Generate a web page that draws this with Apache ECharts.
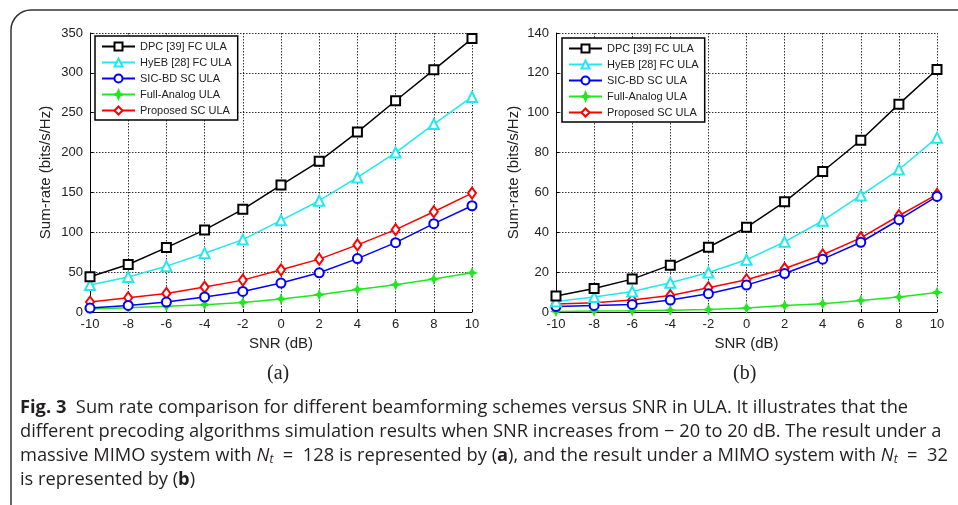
<!DOCTYPE html>
<html><head><meta charset="utf-8">
<script src="https://cdn.jsdelivr.net/npm/echarts@6/dist/echarts.min.js"></script>
<style>html,body{margin:0;padding:0;background:#fff}#c{width:958px;height:505px}</style>
</head><body><div id="c"></div>
<script>
var snr = [-10,-8,-6,-4,-2,0,2,4,6,8,10];
var seriesNames = ['DPC [39] FC ULA','HyEB [28] FC ULA','SIC-BD SC ULA','Full-Analog ULA','Proposed SC ULA'];
// (a) Nt = 128
var dpcA      = [44.2,59.6,80.8,103,128.8,159.2,189,225.7,265,303.8,343];
var hyebA     = [33.8,44,57.5,73.8,90.8,115,139.6,168.8,200,235.7,269.8];
var sicA      = [5,8.3,12.5,18.8,25.8,36.3,49.2,67,87,110.8,133.3];
var analogA   = [3.8,5.4,7.1,9.2,12,16.3,21.7,28.3,34.2,41.3,49.2];
var proposedA = [12.5,17.9,23.3,31.3,40,52.9,66.3,84.2,103.3,125.8,149.2];
// (b) Nt = 32
var dpcB      = [8,11.8,16.5,23.5,32.5,42.5,55.3,70.5,86.2,104.3,121.7];
var hyebB     = [5.3,7.5,10.3,14.7,19.8,26.2,35.2,45.8,58.5,71.5,87.5];
var sicB      = [2.7,3.3,3.8,6,9.2,13.5,19.3,26.5,35,46.3,58];
var analogB   = [0.3,0.5,0.6,0.9,1.2,2,3.2,4.2,5.8,7.5,9.8];
var proposedB = [4,4.7,6,8.3,12.2,16.2,21.8,28.7,37.2,48.3,59];
var yTicksA = [0,50,100,150,200,250,300,350];
var yTicksB = [0,20,40,60,80,100,120,140];

var styles = [
  {color:'#000000', symbol:'emptyRect', size:9},
  {color:'#22e8f0', symbol:'emptyTriangle', size:10},
  {color:'#0000ff', symbol:'emptyCircle', size:9},
  {color:'#1ee81e', symbol:'path://M0,-1 L0.3,-0.3 L1,0 L0.3,0.3 L0,1 L-0.3,0.3 L-1,0 L-0.3,-0.3Z', size:8},
  {color:'#ff0000', symbol:'emptyDiamond', size:[8,11]}
];
function pairs(arr){ return snr.map(function(x,i){return [x,arr[i]];}); }
function mk(idx, arr, gi){
  var s = styles[idx];
  return {
    name: seriesNames[idx], type:'line', xAxisIndex:gi, yAxisIndex:gi,
    data: pairs(arr), symbol: s.symbol, symbolSize: s.size, showSymbol:true,
    lineStyle:{color:s.color, width:1.5}, itemStyle:{color:s.color, borderColor:s.color, borderWidth:1.5},
    animation:false, z: 5 - idx
  };
}
function xAx(gi){
  return {type:'value', gridIndex:gi, min:-10, max:10, interval:2,
    name:'SNR (dB)', nameLocation:'middle', nameGap:23,
    nameTextStyle:{fontFamily:'Liberation Sans', fontSize:15, color:'#222'},
    axisLine:{show:true, onZero:false, lineStyle:{color:'#000', width:1}},
    axisTick:{show:true, inside:true, length:3, lineStyle:{color:'#000'}},
    axisLabel:{fontFamily:'Liberation Sans', fontSize:13, color:'#222', margin:6},
    splitLine:{show:true, lineStyle:{color:'#000', type:[1.5,1.5], width:0.8}}};
}
function yAx(gi, ticks){
  return {type:'value', gridIndex:gi, min:ticks[0], max:ticks[ticks.length-1], interval:ticks[1]-ticks[0],
    name:'Sum-rate (bits/s/Hz)', nameLocation:'middle', nameGap: gi===0?36.5:34.5,
    nameTextStyle:{fontFamily:'Liberation Sans', fontSize:15, color:'#222'},
    axisLine:{show:true, onZero:false, lineStyle:{color:'#000', width:1}},
    axisTick:{show:true, inside:true, length:3, lineStyle:{color:'#000'}},
    axisLabel:{fontFamily:'Liberation Sans', fontSize:13, color:'#222', margin:7},
    splitLine:{show:true, lineStyle:{color:'#000', type:[1.5,1.5], width:0.8}}};
}
function leg(left, top){
  return {orient:'vertical', left:left, top:top, data:seriesNames, itemWidth:33, itemHeight:10, itemGap:5,
    backgroundColor:'#fff', borderColor:'#000', borderWidth:1.5, borderRadius:0, padding:[5,6,4,6],
    textStyle:{fontFamily:'Liberation Sans', fontSize:11, color:'#222'}, selectedMode:false};
}
var capFont = '"Open Sans",sans-serif';
var CS = 18.3;
function capText(y, text, rich){
  return {type:'text', left:20, top:y, silent:true,
    style:{text:text, fontFamily:capFont, fontSize:CS, fill:'#231f20', rich:rich||{}}};
}
var rich = {
  b:{fontFamily:capFont, fontSize:CS, fontWeight:'bold', fill:'#231f20', color:'#231f20'},
  i:{fontFamily:capFont, fontSize:CS, fontStyle:'italic', fill:'#231f20', color:'#231f20'},
  sub:{fontFamily:capFont, fontSize:12, fontStyle:'italic', fill:'#231f20', color:'#231f20', verticalAlign:'bottom', padding:[7,0,0,0]},
  n:{fontFamily:capFont, fontSize:CS, fill:'#231f20', color:'#231f20'}
};
var chart = echarts.init(document.getElementById('c'));
var series = [];
var A=[dpcA,hyebA,sicA,analogA,proposedA], B=[dpcB,hyebB,sicB,analogB,proposedB];
for (var k=0;k<5;k++){ series.push(mk(k,A[k],0)); }
for (var k=0;k<5;k++){ series.push(mk(k,B[k],1)); }
chart.setOption({
  animation:false,
  backgroundColor:'#fff',
  grid:[{left:90, top:33, width:382, height:279},{left:556, top:33, width:381, height:279}],
  xAxis:[xAx(0), xAx(1)],
  yAxis:[yAx(0,yTicksA), yAx(1,yTicksB)],
  legend:[leg(95,36), leg(562,38)],
  series:series,
  graphic:[
    {type:'polyline', silent:true, shape:{points:[[11,505],[11,30]]}, style:{stroke:'#333', lineWidth:1.5, fill:null}},
    {type:'polyline', silent:true, shape:{points:[[31,10],[958,10]]}, style:{stroke:'#333', lineWidth:1.5, fill:null}},
    {type:'arc', silent:true, shape:{cx:31, cy:30, r:20, startAngle:Math.PI, endAngle:Math.PI*1.5, clockwise:true}, style:{stroke:'#333', lineWidth:1.5, fill:null}},
    {type:'text', left:267, top:364, silent:true, style:{text:'(a)', fontFamily:'Liberation Serif', fontSize:20, fill:'#222'}},
    {type:'text', left:733, top:364, silent:true, style:{text:'(b)', fontFamily:'Liberation Serif', fontSize:20, fill:'#222'}},
    capText(399, '{b|Fig. 3}{n|  Sum rate comparison for different beamforming schemes versus SNR in ULA. It illustrates that the}', rich),
    capText(423, '{n|different precoding algorithms simulation results when SNR increases from − 20 to 20 dB. The result under a}', rich),
    capText(447, '{n|massive MIMO system with }{i|N}{sub|t}{n|  =  128 is represented by (}{b|a}{n|), and the result under a MIMO system with }{i|N}{sub|t}{n|  =  32}', rich),
    capText(471, '{n|is represented by (}{b|b}{n|)}', rich)
  ]
});
</script></body></html>
